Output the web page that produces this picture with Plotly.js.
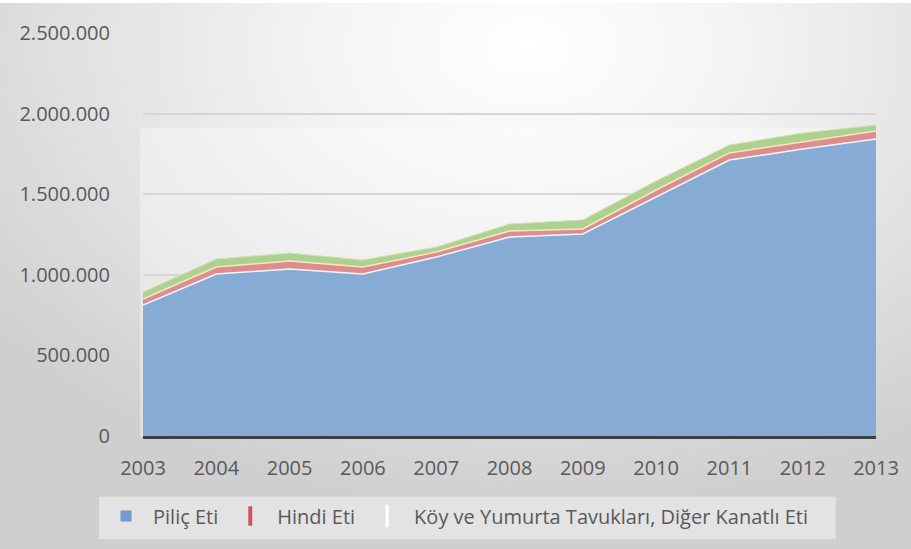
<!DOCTYPE html>
<html>
<head>
<meta charset="utf-8">
<script src="https://cdn.plot.ly/plotly-3.0.1.min.js"></script>
<style>
  html, body { margin: 0; padding: 0; }
  #chart {
    width: 911px; height: 549px; box-sizing: border-box;
    border-top: 3px solid #ffffff;
    background: radial-gradient(ellipse 75% 85% at 58% 8%, #ffffff 0%, #f4f4f4 30%, #e2e2e2 65%, #cfcfcf 100%);
  }
</style>
</head>
<body>
<div id="chart"></div>
<script>
const years = [2003, 2004, 2005, 2006, 2007, 2008, 2009, 2010, 2011, 2012, 2013];
const pilicEti = [813000, 1005000, 1036000, 1005000, 1110000, 1234000, 1253000, 1483000, 1712000, 1780000, 1842000];
const hindiEti = [37000, 43000, 50000, 43000, 31000, 38000, 31000, 43000, 44000, 44000, 50000];
const koyDiger = [43000, 50000, 49000, 44000, 31000, 43000, 56000, 56000, 49000, 56000, 37000];
const seriesNames = ['Piliç Eti', 'Hindi Eti', 'Köy ve Yumurta Tavukları, Diğer Kanatlı Eti'];
const yTicks = [0, 500000, 1000000, 1500000, 2000000, 2500000];

const colBlue = '#86acd6', colRed = '#de8c8c', colGreen = '#afd18f';

const traces = [
  { x: years, y: pilicEti, name: seriesNames[0], type: 'scatter', mode: 'lines', stackgroup: 'one',
    fillcolor: colBlue, line: { color: '#f4f6fb', width: 1.5 }, showlegend: false, hoverinfo: 'skip' },
  { x: years, y: hindiEti, name: seriesNames[1], type: 'scatter', mode: 'lines', stackgroup: 'one',
    fillcolor: colRed, line: { color: '#f3e8c6', width: 1.5 }, showlegend: false, hoverinfo: 'skip' },
  { x: years, y: koyDiger, name: seriesNames[2], type: 'scatter', mode: 'lines', stackgroup: 'one',
    fillcolor: colGreen, line: { color: '#cfe3b6', width: 1 }, showlegend: false, hoverinfo: 'skip' },
  // legend entries
  { x: [null], y: [null], name: seriesNames[0], type: 'scatter', mode: 'markers',
    marker: { symbol: 'square', size: 11, color: '#6f9bd0' } },
  { x: [null], y: [null], name: seriesNames[1], type: 'scatter', mode: 'markers',
    marker: { symbol: 'line-ns', size: 14, line: { color: '#d2525a', width: 4 } } },
  { x: [null], y: [null], name: seriesNames[2], type: 'scatter', mode: 'markers',
    marker: { symbol: 'line-ns', size: 16, line: { color: '#ffffff', width: 3 } } }
];

const layout = {
  width: 911, height: 546,
  margin: { l: 143, r: 35, t: 30, b: 113 },
  paper_bgcolor: 'rgba(0,0,0,0)',
  plot_bgcolor: 'rgba(0,0,0,0)',
  separators: ',.',
  font: { family: '"Open Sans", sans-serif', size: 20, color: '#595959' },
  showlegend: true,
  xaxis: {
    range: [2003, 2013], tickvals: years, ticktext: years.map(String),
    showgrid: false, zeroline: false,
    showline: true, linecolor: '#3f3f3f', linewidth: 3,
    ticks: 'outside', ticklen: 12, tickcolor: 'rgba(0,0,0,0)',
    tickfont: { size: 20, color: '#595959' }, fixedrange: true
  },
  yaxis: {
    range: [0, 2500000], tickvals: yTicks, tickformat: ',d',
    showgrid: true, gridcolor: '#d6d6d6', gridwidth: 2,
    zeroline: false, showline: false,
    ticks: 'outside', ticklen: 28, tickcolor: 'rgba(0,0,0,0)',
    tickfont: { size: 20, color: '#595959' }, fixedrange: true
  },
  shapes: [
    { type: 'rect', xref: 'paper', yref: 'paper', x0: -0.004, x1: 1.0, y0: 0, y1: 0.765,
      fillcolor: 'rgba(255,255,255,0.35)', line: { width: 0 }, layer: 'below' },
    { type: 'rect', xref: 'paper', yref: 'paper', x0: -0.060, x1: 0.945, y0: -0.256, y1: -0.151,
      fillcolor: '#e3e3e3', line: { width: 0 }, layer: 'below' }
  ],
  legend: {
    orientation: 'h', x: -0.06, xanchor: 'left', y: -0.15, yanchor: 'top',
    bgcolor: 'rgba(0,0,0,0)', borderwidth: 0,
    font: { size: 20, color: '#595959' },
    traceorder: 'normal', itemwidth: 44
  }
};

Plotly.newPlot('chart', traces, layout, { displayModeBar: false, staticPlot: true });
</script>
</body>
</html>
